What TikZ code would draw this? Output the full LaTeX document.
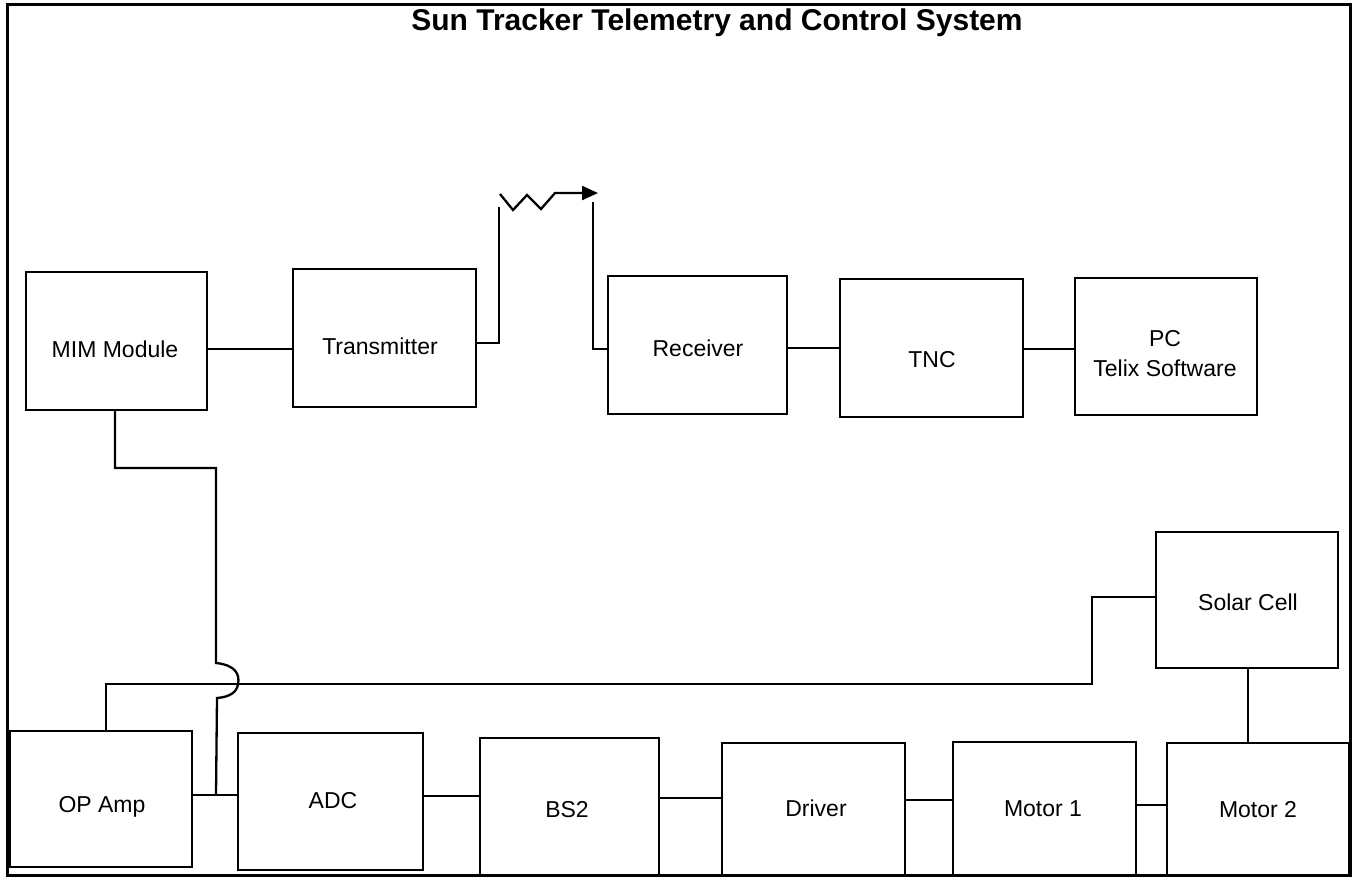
\documentclass[tikz,border=0pt]{standalone}
\usepackage{fontspec}
\setmainfont{Liberation Sans}
\usetikzlibrary{arrows.meta}
\tikzset{
  box/.style={draw, line width=2.3pt, inner sep=0pt, outer sep=0pt},
  lbl/.style={font=\fontsize{23}{25}\selectfont, inner sep=0pt, anchor=base},
  wire/.style={line width=2.3pt},
  frame/.style={line width=3pt},
  ttl/.style={font=\bfseries\fontsize{30}{32}\selectfont, inner sep=0pt, anchor=base}
}
\begin{document}
\begin{tikzpicture}[x=1pt,y=-1pt]
\useasboundingbox (0,0) rectangle (1355,879);
\draw[frame] (7,4) rectangle (1350,875);
\node[ttl] (title) at (717,30) {Sun Tracker Telemetry and Control System};
% boxes
\node[box, minimum width=181pt, minimum height=138pt] (mim) at (116.5,341) {};
\node[box, minimum width=183pt, minimum height=138pt] (tx) at (384.5,338) {};
\node[box, minimum width=179pt, minimum height=138pt] (rx) at (697.5,345) {};
\node[box, minimum width=183pt, minimum height=138pt] (tnc) at (931.5,348) {};
\node[box, minimum width=182pt, minimum height=137pt] (pc) at (1166,346.5) {};
\node[box, minimum width=182pt, minimum height=136pt] (solar) at (1247,600) {};
\node[box, minimum width=182pt, minimum height=136pt] (opamp) at (101,799) {};
\node[box, minimum width=185pt, minimum height=137pt] (adc) at (330.5,801.5) {};
\node[box, minimum width=179pt, minimum height=137pt] (bs2) at (569.5,806.5) {};
\node[box, minimum width=183pt, minimum height=133pt] (drv) at (813.5,809.5) {};
\node[box, minimum width=183pt, minimum height=134pt] (m1) at (1044.5,809) {};
\node[box, minimum width=182pt, minimum height=133pt] (m2) at (1258,809.5) {};
% labels
\node[lbl] (tmim) at (115,357) {MIM Module};
\node[lbl] (ttx) at (380,354) {Transmitter};
\node[lbl] (trx) at (698,356) {Receiver};
\node[lbl] (ttnc) at (932,367) {TNC};
\node[lbl] (tpc1) at (1165,346) {PC};
\node[lbl] (tpc2) at (1165,376) {Telix Software};
\node[lbl] (tsolar) at (1248,610) {Solar Cell};
\node[lbl] (topamp) at (102,812) {OP Amp};
\node[lbl] (tadc) at (333,808) {ADC};
\node[lbl] (tbs2) at (567,817) {BS2};
\node[lbl] (tdrv) at (816,816) {Driver};
\node[lbl] (tm1) at (1043,816) {Motor 1};
\node[lbl] (tm2) at (1258,817) {Motor 2};
% coordinates
\coordinate (txa) at (499,207);
\coordinate (rxa) at (593,202);
\coordinate (z0) at (500,194);
\coordinate (ztip) at (598,193);
\coordinate (hopa) at (216,663);
\coordinate (hopb) at (217,698);
\coordinate (bus) at (216,795);
% top row wires
\draw[wire] (mim.east |- 0,349) -- (tx.west |- 0,349);
\draw[wire] (tx.east |- 0,343) -| (txa);
\draw[wire] (rxa) |- (rx.west |- 0,349);
\draw[wire, -{Triangle[length=16pt,width=14pt]}] (z0) -- (513,210) -- (527,195) -- (541,209) -- (555,193) -- (ztip);
\draw[wire] (rx.east |- 0,348) -- (tnc.west |- 0,348);
\draw[wire] (tnc.east |- 0,349) -- (pc.west |- 0,349);
% MIM to bus with hop
\draw[wire] (mim.south -| 115,0) |- (216,468) -- (hopa)
  .. controls (236,665) and (240,675) .. (238,684)
  .. controls (237,692) and (230,697) .. (hopb) -- (bus);
% feedback line
\draw[wire] (opamp.north -| 106,0) |- (1092,684) |- (solar.west |- 0,597);
% bottom row wires
\draw[wire] (opamp.east |- 0,795) -- (adc.west |- 0,795);
\draw[wire] (adc.east |- 0,796) -- (bs2.west |- 0,796);
\draw[wire] (bs2.east |- 0,798) -- (drv.west |- 0,798);
\draw[wire] (drv.east |- 0,800) -- (m1.west |- 0,800);
\draw[wire] (m1.east |- 0,805) -- (m2.west |- 0,805);
\draw[wire] (solar.south -| 1248,0) -- (m2.north -| 1248,0);
\end{tikzpicture}
\end{document}
